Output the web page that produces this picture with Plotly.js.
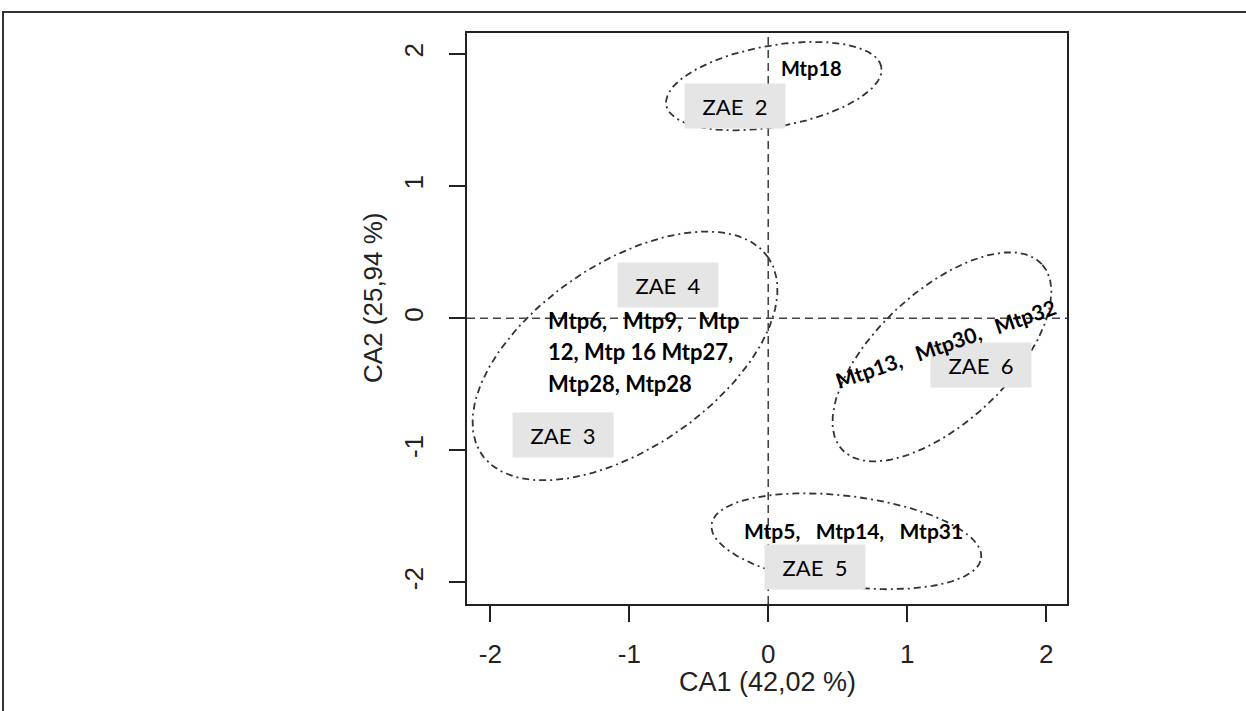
<!DOCTYPE html>
<html>
<head>
<meta charset="utf-8">
<script src="https://cdn.plot.ly/plotly-3.0.1.min.js"></script>
<style>
  html, body { margin: 0; padding: 0; background: #fff; }
  #wrap { position: relative; width: 1246px; height: 711px; overflow: hidden; }
  #chart { position: absolute; left: 0; top: 0; width: 1246px; height: 711px; }
  #frame { position: absolute; left: 2px; top: 11px; right: -4px; bottom: -4px;
           border-top: 2px solid #333; border-left: 2px solid #333;
           pointer-events: none; z-index: 10; }
</style>
</head>
<body>
<div id="wrap">
  <div id="chart"></div>
  <div id="frame"></div>
</div>
<script>
// ---- axis ticks ----
const xTickVals = [-2, -1, 0, 1, 2];
const yTickVals = [-2, -1, 0, 1, 2];
const xTitle = 'CA1 (42,02 %)';
const yTitle = 'CA2 (25,94 %)';

// ---- ellipses (groups) : centre, semi-axes (x units), tilt in degrees ----
const ellNames = ['ZAE 2', 'ZAE 3 / ZAE 4', 'ZAE 6', 'ZAE 5'];
const ellCx = [0.040, -1.031, 1.250, 0.562];
const ellCy = [1.758, -0.285, -0.292, -1.688];
const ellA = [0.786, 1.251, 0.981, 0.978];
const ellB = [0.292, 0.664, 0.473, 0.326];
const ellAngle = [10, 34.5, 42.9, -7.1];

// ---- ZAE box labels ----
const zaeLabels = ['ZAE\u00a0 2', 'ZAE\u00a0 4', 'ZAE\u00a0 3', 'ZAE\u00a0 6', 'ZAE\u00a0 5'];
const zaeX = [-0.240, -0.722, -1.477, 1.530, 0.335];
const zaeY = [1.606, 0.252, -0.884, -0.354, -1.886];

// ---- Mtp labels ----
const mtpLabels = ['Mtp18',
  'Mtp6,\u00a0\u00a0 Mtp9,\u00a0\u00a0 Mtp',
  '12, Mtp 16 Mtp27,',
  'Mtp28, Mtp28',
  'Mtp5,\u00a0\u00a0 Mtp14,\u00a0\u00a0 Mtp31',
  'Mtp13,\u00a0\u00a0 Mtp30,\u00a0\u00a0 Mtp32'];
const mtpX = [0.314, -1.601, -1.601, -1.601, 0.612, 1.275];
const mtpY = [1.894, -0.013, -0.255, -0.490, -1.610, -0.190];
const mtpAnchor = ['center', 'left', 'left', 'left', 'center', 'center'];
const mtpSize = [20, 22, 22, 22, 21, 21];
const mtpAngle = [0, 0, 0, 0, 0, -19];

// ---- layout geometry ----
const W = 1246, H = 711;
const M = { l: 467, r: 179, t: 33, b: 107 };
const xRange = [-2.168, 2.15];
const yRange = [-2.163, 2.16];
const plotW = W - M.l - M.r, plotH = H - M.t - M.b;
const pxPerX = plotW / (xRange[1] - xRange[0]);
const pxPerY = plotH / (yRange[1] - yRange[0]);

const traces = [];
for (let i = 0; i < ellNames.length; i++) {
  const phi = ellAngle[i] * Math.PI / 180;
  const xs = [], ys = [];
  const n = 180;
  for (let k = 0; k <= n; k++) {
    const t = 2 * Math.PI * k / n;
    const ax = ellA[i] * pxPerX, bx = ellB[i] * pxPerX; // pixel semi-axes
    const dx = ax * Math.cos(t) * Math.cos(phi) - bx * Math.sin(t) * Math.sin(phi);
    const dy = ax * Math.cos(t) * Math.sin(phi) + bx * Math.sin(t) * Math.cos(phi);
    xs.push(ellCx[i] + dx / pxPerX);
    ys.push(ellCy[i] + dy / pxPerY);
  }
  traces.push({
    x: xs, y: ys, type: 'scatter', mode: 'lines', name: ellNames[i],
    line: { color: '#333', width: 1.8, dash: '7px,4px,2px,4px' },
    hoverinfo: 'skip', showlegend: false
  });
}

const annotations = [];
for (let i = 0; i < zaeLabels.length; i++) {
  annotations.push({
    x: zaeX[i], y: zaeY[i], xref: 'x', yref: 'y', text: zaeLabels[i],
    showarrow: false, bgcolor: '#e5e5e5', width: 100, height: 44,
    borderpad: 0, align: 'center', valign: 'middle',
    font: { family: 'Lato, "Open Sans", sans-serif', size: 22, color: '#000' }
  });
}
for (let i = 0; i < mtpLabels.length; i++) {
  annotations.push({
    x: mtpX[i], y: mtpY[i], xref: 'x', yref: 'y', text: '<b>' + mtpLabels[i] + '</b>',
    showarrow: false, xanchor: mtpAnchor[i], yanchor: 'middle', textangle: mtpAngle[i],
    font: { family: 'Lato, "Open Sans", sans-serif', size: mtpSize[i], color: '#000' }
  });
}
// axis titles
annotations.push({
  xref: 'paper', yref: 'paper', x: 0.5, y: (H - M.b - 682) / plotH,
  xanchor: 'center', yanchor: 'middle', text: xTitle, showarrow: false,
  font: { family: '"Liberation Sans", Arial, sans-serif', size: 27, color: '#222' }
});
annotations.push({
  xref: 'paper', yref: 'paper', x: (373 - M.l) / plotW, y: (H - M.b - 298) / plotH,
  xanchor: 'center', yanchor: 'middle', textangle: -90, text: yTitle, showarrow: false,
  font: { family: '"Liberation Sans", Arial, sans-serif', size: 26, color: '#222' }
});

const shapes = [
  { type: 'line', xref: 'x', yref: 'paper', x0: 0, x1: 0, y0: 0, y1: 1,
    line: { color: '#444', width: 1.6, dash: '8px,5px' } },
  { type: 'line', xref: 'paper', yref: 'y', x0: 0, x1: 1, y0: 0, y1: 0,
    line: { color: '#444', width: 1.6, dash: '8px,5px' } }
];

const axisCommon = {
  showgrid: false, zeroline: false, showline: true, mirror: true,
  linecolor: '#222', linewidth: 2, ticks: 'outside', ticklen: 16,
  tickwidth: 2, tickcolor: '#222',
  tickfont: { family: '"Liberation Sans", Arial, sans-serif', size: 26, color: '#222' }
};

const layout = {
  width: W, height: H, margin: M,
  paper_bgcolor: '#fff', plot_bgcolor: '#fff', showlegend: false,
  xaxis: Object.assign({}, axisCommon, {
    range: xRange, tickvals: xTickVals, ticktext: xTickVals.map(String),
    ticklabelstandoff: 10
  }),
  yaxis: Object.assign({}, axisCommon, {
    range: yRange, tickvals: yTickVals, ticktext: yTickVals.map(String),
    tickangle: -90, ticklabelstandoff: 16
  }),
  shapes: shapes,
  annotations: annotations
};

Plotly.newPlot('chart', traces, layout, { staticPlot: true, displayModeBar: false });
</script>
</body>
</html>
